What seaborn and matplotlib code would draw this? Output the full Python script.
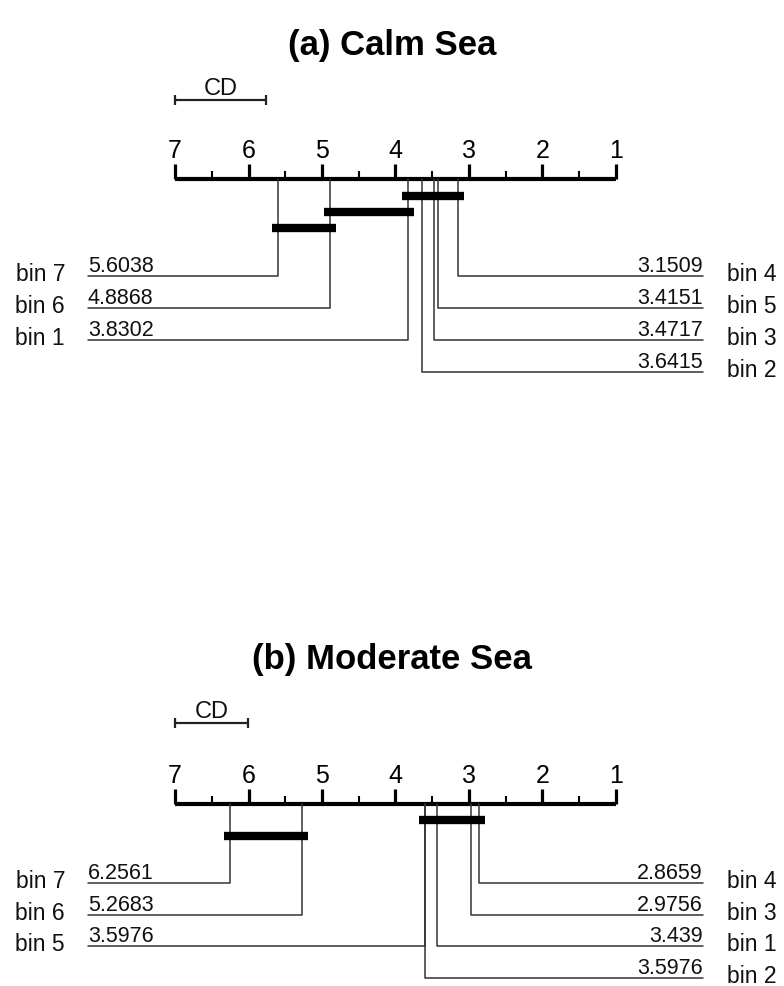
import numpy as np
import pandas as pd
import matplotlib.pyplot as plt
import seaborn as sns

# average ranks per bin, listed from worst (left side) to best
calm_names = ['bin 7', 'bin 6', 'bin 1', 'bin 2', 'bin 3', 'bin 5', 'bin 4']
calm_ranks = [5.6038, 4.8868, 3.8302, 3.6415, 3.4717, 3.4151, 3.1509]
calm_cd = 1.24
calm_cliques = [('bin 1', 'bin 4'), ('bin 6', 'bin 1'), ('bin 7', 'bin 6')]

moderate_names = ['bin 7', 'bin 6', 'bin 5', 'bin 2', 'bin 1', 'bin 3', 'bin 4']
moderate_ranks = [6.2561, 5.2683, 3.5976, 3.5976, 3.439, 2.9756, 2.8659]
moderate_cd = 0.99
moderate_cliques = [('bin 2', 'bin 4'), ('bin 7', 'bin 6')]

titles = ['(a) Calm Sea', '(b) Moderate Sea']

sns.set_theme(style="white")
plt.rcParams['font.family'] = ['Liberation Sans', 'DejaVu Sans']

W, H = 784, 987
fig = plt.figure(figsize=(W / 100, H / 100), dpi=100)

# rank 7 sits at x=175 px, rank 1 at x=616 px
px_per_rank = (616 - 175) / 6
xlim = (7 + 175 / px_per_rank, 7 - (W - 175) / px_per_rank)


def px2rank(p):
    return 7 - (p - 175) / px_per_rank


left_edge = px2rank(88)
right_edge = px2rank(703)
left_name = px2rank(65)
right_name = px2rank(727)
ext = 0.08


def cd_diagram(ax, names, ranks, cd, cliques, title, y):
    rank_of = dict(zip(names, ranks))
    ax.text(np.mean(xlim), y['title'], title, ha='center', va='center',
            fontsize=25, fontweight='bold', color='black')

    # CD bar
    ax.plot([7, 7 - cd], [y['cd'], y['cd']], color='#222', lw=1.6)
    ax.vlines([7, 7 - cd], y['cd'] - 5, y['cd'] + 5, color='#222', lw=1.6)
    ax.text(7 - cd / 2, y['cd'] - 6, 'CD', ha='center', va='baseline',
            fontsize=17, color='#111')

    # main axis with ticks
    ax.plot([7, 1], [y['axis'], y['axis']], color='black', lw=3,
            solid_capstyle='butt')
    major = np.arange(1, 8)
    minor = np.arange(1.5, 7, 1)
    ax.vlines(major, y['axis'] - 15, y['axis'], color='black', lw=2.3)
    ax.vlines(minor, y['axis'] - 8, y['axis'], color='black', lw=1.5)
    for m in major:
        ax.text(m, y['axis'] - 22, str(m), ha='center', va='baseline',
                fontsize=18, color='black')

    # connectors: worst half on the left, best half on the right
    n_left = len(names) // 2
    rows = []
    for i, (nm, r) in enumerate(zip(names, ranks)):
        if i < n_left:
            row = y['row0'] + i * y['step']
            end = left_edge
            ax.text(left_edge, row - 5, f"{r:g}", ha='left', va='baseline',
                    fontsize=15.5, color='#111')
            ax.text(left_name, row + 4, nm, ha='right', va='baseline',
                    fontsize=16.5, color='#111')
        else:
            j = len(names) - 1 - i
            row = y['row0'] + j * y['step']
            end = right_edge
            ax.text(right_edge, row - 5, f"{r:g}", ha='right', va='baseline',
                    fontsize=15.5, color='#111')
            ax.text(right_name, row + 4, nm, ha='left', va='baseline',
                    fontsize=16.5, color='#111')
        rows += [(nm, r, y['axis']), (nm, r, row), (nm, end, row)]
    lines = pd.DataFrame(rows, columns=['name', 'x', 'y'])
    sns.lineplot(data=lines, x='x', y='y', units='name', estimator=None,
                 sort=False, color='#333', lw=1.1, ax=ax)

    # cliques of non-significant difference
    for k, (a, b) in enumerate(cliques):
        yy = y['bar0'] + k * 16
        ax.plot([rank_of[a] + ext, rank_of[b] - ext], [yy, yy], color='black',
                lw=6, solid_capstyle='butt')


layouts = [
    dict(title=45, cd=101, axis=180, bar0=197, row0=277, step=32),
    dict(title=660, cd=724, axis=805, bar0=821, row0=884, step=31.7),
]
data = [
    (calm_names, calm_ranks, calm_cd, calm_cliques),
    (moderate_names, moderate_ranks, moderate_cd, moderate_cliques),
]

for k in range(2):
    top = k * H / 2
    ax = fig.add_axes([0, 1 - (k + 1) / 2, 1, 0.5])
    ax.set_xlim(*xlim)
    ax.set_ylim(top + H / 2, top)
    ax.axis('off')
    names, ranks, cd, cliques = data[k]
    cd_diagram(ax, names, ranks, cd, cliques, titles[k], layouts[k])

fig.savefig('out.png', dpi=100, facecolor='white')
